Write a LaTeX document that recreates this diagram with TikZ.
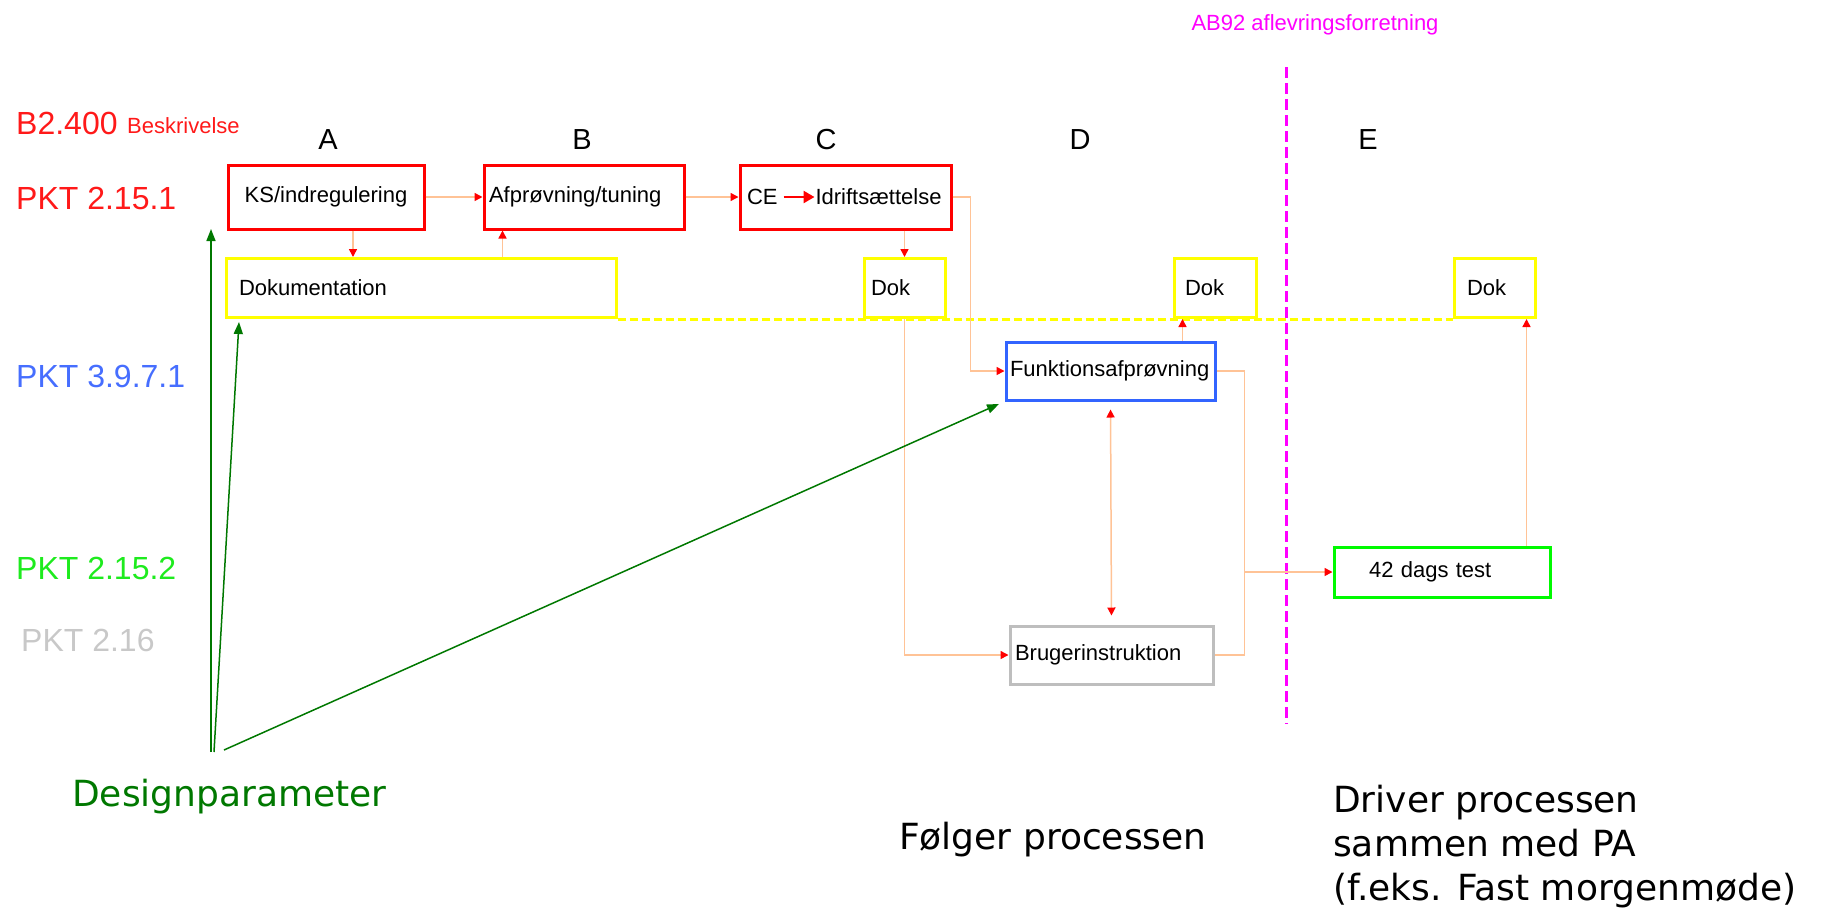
\documentclass[tikz,border=0pt]{standalone}
\usepackage{fontspec}
\setmainfont{Liberation Sans}
\newfontfamily\verdanafont{DejaVu Sans}
\usetikzlibrary{arrows.meta}

\definecolor{pktred}{RGB}{255,25,25}
\definecolor{pktblue}{RGB}{70,110,255}
\definecolor{pktgreen}{RGB}{30,235,30}
\definecolor{pktgray}{RGB}{200,200,200}
\definecolor{boxblue}{RGB}{50,100,255}
\definecolor{boxgreen}{RGB}{0,250,0}
\definecolor{boxgray}{RGB}{190,190,190}
\definecolor{dokyellow}{RGB}{255,255,0}
\definecolor{conorange}{RGB}{255,195,150}
\definecolor{dpgreen}{RGB}{0,120,0}
\definecolor{abmagenta}{RGB}{255,0,255}

\begin{document}
\begin{tikzpicture}[x=1pt,y=1pt,yscale=-1,xscale=1,
  tipr/.tip={Triangle[length=8pt,width=8pt,color=red]},
  pkt/.style={anchor=west,inner sep=0pt,font=\fontsize{32}{36}\selectfont},
  col/.style={inner sep=0pt,font=\fontsize{29}{33}\selectfont},
  box/.style={draw,line width=3pt,inner ysep=0pt,align=left,font=\fontsize{22}{26}\selectfont},
  redbox/.style={box,draw=red,minimum height=64pt},
  dokbox/.style={box,draw=dokyellow,minimum height=59pt},
  con/.style={draw=conorange,line width=1.5pt,-tipr},
  dparrow/.style={draw=dpgreen,line width=1.5pt,-{Triangle[length=12pt,width=9pt]}},
  big/.style={anchor=west,inner sep=0pt,align=left,font=\verdanafont\fontsize{36}{44}\selectfont}]
\useasboundingbox (0,0) rectangle (1825,911);

%Text
\node (b2400) [pkt,text=pktred] at (16,123) {B2.400};
\node (beskr) [anchor=west,inner sep=0pt,text=pktred,font=\fontsize{22}{26}\selectfont] at (127,126) {Beskrivelse};
\node (pkt1) [pkt,text=pktred] at (16,198) {PKT 2.15.1};
\node (pkt2) [pkt,text=pktblue] at (16,376) {PKT 3.9.7.1};
\node (pkt3) [pkt,text=pktgreen] at (16,568) {PKT 2.15.2};
\node (pkt4) [pkt,text=pktgray] at (21,640) {PKT 2.16};
\node (colA) [col] at (328,140) {A};
\node (colB) [col] at (582,140) {B};
\node (colC) [col] at (826,140) {C};
\node (colD) [col] at (1080,140) {D};
\node (colE) [col] at (1368,140) {E};
\node (ab) [inner sep=0pt,text=abmagenta,font=\fontsize{22}{26}\selectfont] at (1315,25) {AB92 aflevringsforretning};

% aflevering
\coordinate (aftop) at (1286,67);
\coordinate (afbot) at (1286,724);
\draw [abmagenta,line width=3pt,dash pattern=on 11pt off 5pt] (aftop) -- (afbot);

% boxes
\node (ks) [redbox,text width=188pt,inner xsep=4pt,align=center] at (326,197) {KS/indregulering};
\node (afp) [redbox,text width=190pt,inner xsep=5pt] at (584,197) {Afprøvning/tuning};
\node (ce) [redbox,text width=197pt,inner xsep=7pt] at (845.5,197) {CE\hspace{38pt}Idriftsættelse};
\node (doku) [dokbox,text width=364pt,inner xsep=13pt] at (421,288) {Dokumentation};
\node (dokc) [dokbox,text width=67pt,inner xsep=7pt] at (904.5,288) {Dok};
\node (dokd) [dokbox,text width=60pt,inner xsep=11pt] at (1215,288) {Dok};
\node (doke) [dokbox,text width=55pt,inner xsep=13pt] at (1494.5,288) {Dok};
\node (funk) [box,draw=boxblue,minimum height=58pt,text width=201pt,inner xsep=4pt] at (1110.5,371) {Funktionsafprøvning};
\node (brug) [box,draw=boxgray,minimum height=58pt,text width=193pt,inner xsep=5pt] at (1111.5,655) {Brugerinstruktion};
\node (test) [box,draw=boxgreen,minimum height=50pt,text width=146pt,inner xsep=35pt] at (1442,572) {42 dags test};

\draw [dokyellow,line width=3pt,dash pattern=on 8pt off 4pt] (doku.south east) -- (doke.south west);
\draw [red,line width=2.5pt,-{Triangle[length=11pt,width=12pt]}] ([xshift=45pt]ce.west) -- ([xshift=76pt]ce.west);

% connectors
\coordinate (ksout) at ([xshift=27pt]ks.south);
\coordinate (afpin) at ([xshift=20pt]afp.south west);
\coordinate (funkout) at ([xshift=-34pt]funk.north east);
\coordinate (fe) at ([xshift=28pt]funk.east);
\coordinate (tp) at ([xshift=-25pt]test.north east);
\draw [con] (ks.east) -- (afp.west);
\draw [con] (afp.east) -- (ce.west);
\draw [con] (ksout) -- (ksout |- doku.north);
\draw [con] (afpin |- doku.north) -- (afpin);
\draw [con] (dokc.north |- ce.south) -- (dokc.north);
\draw [con] (ce.east) -- ++(18,0) |- (funk.west);
\draw [con] (dokc.south) |- (brug.west);
\draw [con] (funkout) -- (funkout |- dokd.south);
\draw [con,tipr-tipr,shorten <=8pt,shorten >=9pt] (funk.south) -- (brug.north);
\draw [draw=conorange,line width=1.5pt] (funk.east) -- (fe) |- (brug.east);
\draw [con] (fe |- test.west) -- (test.west);
\draw [con] (tp) -- (tp |- doke.south);

% designparameter
\node (dp) [big,text=dpgreen] at (72,797) {Designparameter};
\coordinate (dp1) at (211,752);
\coordinate (dp2) at (214,752);
\coordinate (dp3) at (224,750);
\coordinate (g1) at (211,229);
\coordinate (g2) at (239,322);
\draw [dparrow] (dp1) -- (g1);
\draw [dparrow] (dp2) -- (g2);
\draw [dparrow,shorten >=6pt] (dp3) -- (funk.south west);

\node (folger) [big] at (899,840) {Følger processen};
\node (driver) [big] at (1333,847) {Driver processen\\sammen med PA\\(f.eks. Fast morgenmøde)};
\end{tikzpicture}
\end{document}
